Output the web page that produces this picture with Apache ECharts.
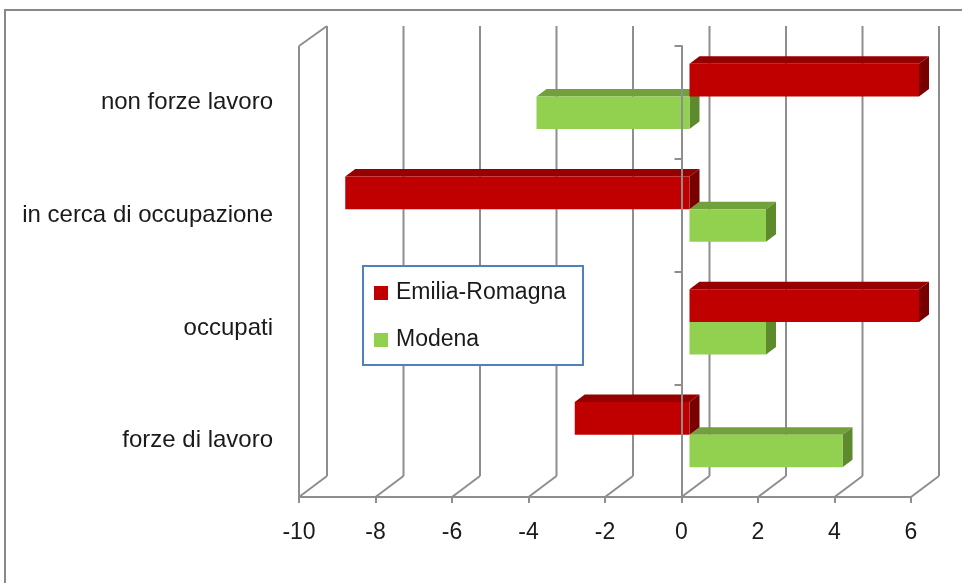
<!DOCTYPE html>
<html>
<head>
<meta charset="utf-8">
<script src="https://cdn.jsdelivr.net/npm/echarts@6/dist/echarts.min.js"></script>
<style>
html,body{margin:0;padding:0;background:#fff;}
#chart{width:962px;height:583px;}
</style>
</head>
<body>
<div id="chart"></div>
<script>
// ---- data ----
const categories = ['non forze lavoro', 'in cerca di occupazione', 'occupati', 'forze di lavoro'];
const emiliaRomagna = [6.0, -9.0, 6.0, -3.0];
const modena = [-4.0, 2.0, 2.0, 4.0];
const xTicks = [-10, -8, -6, -4, -2, 0, 2, 4, 6];
const seriesNames = ['Emilia-Romagna', 'Modena'];

const FONT = "'Liberation Sans', Arial, sans-serif";
const TEXT_COLOR = '#1a1a1a';
const GRID_COLOR = '#8e8e8e';
// depth offsets (styling)
const WALL_DX = 28, WALL_DY = -21;
const BAR_FX = 8, BAR_FY = -6, BAR_DX = 10, BAR_DY = -7.5;

function makeBarRenderer(slot, colors) {
  return function (params, api) {
    const v = api.value(0);
    const cat = api.value(1);
    const band = api.size([0, 1])[1];
    const h = band * 0.29;
    const p0 = api.coord([0, cat]);
    const p1 = api.coord([v, cat]);
    const yc = p0[1] + BAR_FY;
    const yt = slot === 0 ? yc - h : yc;
    const yb = yt + h;
    const xl = Math.min(p0[0], p1[0]) + BAR_FX;
    const xr = Math.max(p0[0], p1[0]) + BAR_FX;
    return {
      type: 'group',
      children: [
        { type: 'polygon', shape: { points: [[xl, yt], [xr, yt], [xr + BAR_DX, yt + BAR_DY], [xl + BAR_DX, yt + BAR_DY]] },
          style: { fill: colors.top } },
        { type: 'polygon', shape: { points: [[xr, yt], [xr + BAR_DX, yt + BAR_DY], [xr + BAR_DX, yb + BAR_DY], [xr, yb]] },
          style: { fill: colors.side } },
        { type: 'rect', shape: { x: xl, y: yt, width: xr - xl, height: yb - yt },
          style: { fill: colors.front } }
      ]
    };
  };
}

const frameRenderer = function (params, api) {
  const cs = params.coordSys;
  const x = api.coord([api.value(0), 0])[0];
  const top = cs.y, bottom = cs.y + cs.height;
  const ls = { stroke: GRID_COLOR, lineWidth: 2 };
  const children = [
    { type: 'line', shape: { x1: x, y1: bottom, x2: x + WALL_DX, y2: bottom + WALL_DY }, style: ls },
    { type: 'line', shape: { x1: x + WALL_DX, y1: bottom + WALL_DY, x2: x + WALL_DX, y2: top - 20 }, style: ls }
  ];
  if (params.dataIndex === 0) {
    children.push({ type: 'line', shape: { x1: x, y1: top, x2: x, y2: bottom }, style: ls });
    children.push({ type: 'line', shape: { x1: x, y1: top, x2: x + WALL_DX, y2: top - 20 }, style: ls });
  }
  return { type: 'group', children: children };
};

const chart = echarts.init(document.getElementById('chart'));
chart.setOption({
  animation: false,
  backgroundColor: '#fff',
  textStyle: { fontFamily: FONT },
  graphic: [
    { type: 'rect', z: 0, silent: true, shape: { x: 5, y: 10, width: 1100, height: 1100 },
      style: { fill: 'none', stroke: '#888', lineWidth: 2 } },
    { type: 'rect', z: 50, silent: true, shape: { x: 363, y: 266, width: 220, height: 99 },
      style: { fill: '#fff', stroke: '#4f81bd', lineWidth: 2 } }
  ],
  legend: {
    z: 60,
    orient: 'vertical',
    left: 374,
    top: 281,
    padding: 0,
    itemGap: 23,
    itemWidth: 14,
    itemHeight: 14,
    icon: 'rect',
    data: seriesNames,
    textStyle: { fontSize: 23, color: TEXT_COLOR, fontFamily: FONT, lineHeight: 24, padding: [0, 0, 0, 3] }
  },
  grid: [
    { left: 299, right: 51, top: 46, bottom: 86 },
    { left: 299, right: 51, top: 46, bottom: 86 }
  ],
  xAxis: [
    {
      gridIndex: 0, type: 'value', min: -10, max: 6, interval: 2,
      axisLine: { show: true, onZero: false, lineStyle: { color: GRID_COLOR, width: 2 } },
      axisTick: { show: true, length: 6, lineStyle: { color: GRID_COLOR, width: 2 } },
      splitLine: { show: false },
      axisLabel: { fontSize: 23, color: TEXT_COLOR, margin: 24, fontFamily: FONT }
    },
    {
      gridIndex: 1, type: 'value', min: -10, max: 6, interval: 2, show: false
    }
  ],
  yAxis: [
    {
      gridIndex: 0, type: 'category', data: categories, inverse: true,
      axisLine: { show: false, onZero: false },
      axisTick: { show: false },
      axisLabel: { fontSize: 24, color: TEXT_COLOR, margin: 26, fontFamily: FONT, padding: [10, 0, 0, 0] }
    },
    {
      gridIndex: 1, type: 'category', data: categories, inverse: true, z: 30,
      axisLine: { show: true, onZero: true, lineStyle: { color: GRID_COLOR, width: 2 } },
      axisTick: { show: true, length: 7, lineStyle: { color: GRID_COLOR, width: 2 } },
      axisLabel: { show: false }
    }
  ],
  series: [
    {
      type: 'custom', name: 'frame', silent: true, z: 1,
      xAxisIndex: 0, yAxisIndex: 0,
      renderItem: frameRenderer,
      data: xTicks.map(v => [v, 0])
    },
    {
      type: 'custom', name: seriesNames[1], z: 3,
      xAxisIndex: 0, yAxisIndex: 0,
      itemStyle: { color: '#92D050' },
      renderItem: makeBarRenderer(1, { front: '#92D050', top: '#72A03C', side: '#5E8A2E' }),
      encode: { x: 0, y: 1 },
      data: modena.map((v, i) => [v, i])
    },
    {
      type: 'custom', name: seriesNames[0], z: 4,
      xAxisIndex: 0, yAxisIndex: 0,
      itemStyle: { color: '#C00000' },
      renderItem: makeBarRenderer(0, { front: '#C00000', top: '#950000', side: '#780000' }),
      encode: { x: 0, y: 1 },
      data: emiliaRomagna.map((v, i) => [v, i])
    }
  ]
});
</script>
</body>
</html>
